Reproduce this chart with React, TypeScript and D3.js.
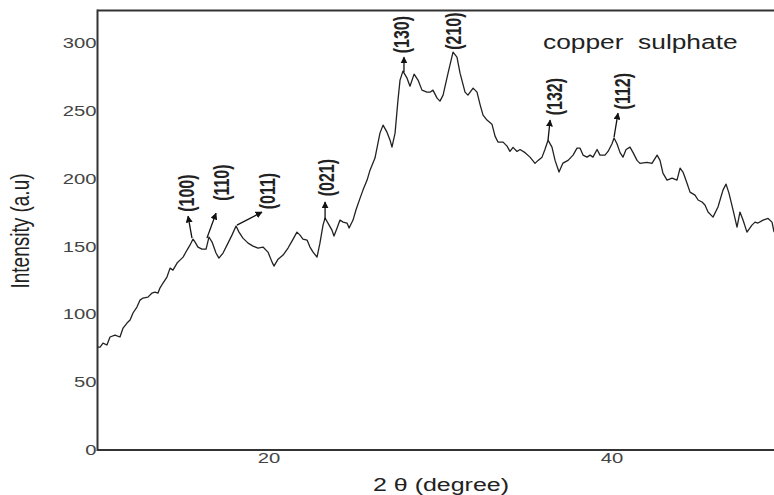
import React from "react";
import * as d3 from "d3";

// 2θ (degree)
const twoTheta = [
  10.0, 10.15, 10.32, 10.55, 10.73, 11.02, 11.31, 11.49, 11.72, 11.9, 12.07, 12.3, 12.48, 12.65, 12.94, 13.18, 13.35, 13.53, 13.64, 13.82,
  14.05, 14.23, 14.4, 14.64, 14.81, 14.99, 15.22, 15.39, 15.57, 15.69, 15.86, 16.09, 16.33, 16.5, 16.68, 16.91, 17.08, 17.32, 17.61, 17.84,
  18.08, 18.25, 18.48, 18.78, 19.07, 19.36, 19.65, 19.94, 20.18, 20.29, 20.53, 20.82, 21.11, 21.34, 21.63, 21.81, 21.98, 22.22, 22.39, 22.57,
  22.8, 22.97, 23.15, 23.27, 23.44, 23.67, 23.79, 23.97, 24.14, 24.32, 24.55, 24.67, 24.9, 25.07, 25.31, 25.48, 25.72, 25.89, 26.18, 26.47,
  26.65, 26.88, 27.06, 27.17, 27.35, 27.52, 27.64, 27.81, 28.05, 28.22, 28.46, 28.69, 28.92, 29.21, 29.39, 29.56, 29.8, 29.97, 30.15, 30.44,
  30.55, 30.73, 30.96, 31.14, 31.43, 31.6, 31.9, 32.13, 32.3, 32.48, 32.71, 33.0, 33.18, 33.35, 33.65, 33.88, 34.05, 34.23, 34.46, 34.64,
  34.93, 35.22, 35.51, 35.69, 35.92, 36.09, 36.27, 36.5, 36.68, 36.91, 37.14, 37.44, 37.73, 37.96, 38.14, 38.31, 38.54, 38.72, 38.89, 39.13,
  39.3, 39.59, 39.77, 40.0, 40.12, 40.29, 40.47, 40.64, 40.82, 41.05, 41.23, 41.46, 41.63, 42.04, 42.33, 42.63, 42.8, 42.97, 43.21, 43.5,
  43.79, 43.97, 44.14, 44.37, 44.55, 44.84, 45.02, 45.25, 45.42, 45.6, 45.89, 46.18, 46.47, 46.65, 46.82, 47.06, 47.29, 47.46, 47.64, 47.87,
  48.16, 48.34, 48.51, 48.81, 49.1, 49.33, 49.45,
];

// Intensity (a.u)
const intensity = [
  75.9, 75.9, 78.8, 77.4, 83.3, 84.7, 83.3, 89.9, 93.6, 95.8, 101.0, 105.4, 110.5, 112.0, 112.7, 115.7, 116.4, 115.7, 119.4, 123.1,
  127.5, 134.1, 132.6, 137.8, 140.0, 142.2, 147.4, 151.0, 155.5, 153.3, 149.6, 148.1, 148.1, 157.0, 153.3, 145.2, 141.5, 145.2, 152.5, 158.4,
  165.1, 160.6, 156.2, 152.5, 150.3, 148.9, 149.6, 145.9, 138.5, 135.6, 140.7, 143.7, 148.9, 154.0, 160.6, 158.4, 155.5, 154.8, 149.6, 145.9,
  142.2, 152.5, 165.8, 171.0, 167.3, 162.1, 157.7, 163.6, 169.5, 168.0, 167.3, 163.6, 169.5, 176.9, 185.7, 191.6, 199.0, 206.3, 215.2, 233.6,
  239.5, 234.3, 228.4, 223.3, 233.6, 257.9, 272.7, 279.3, 274.1, 268.2, 277.1, 272.7, 265.3, 263.8, 263.8, 265.3, 259.4, 257.2, 261.6, 277.8,
  283.7, 293.3, 289.6, 277.8, 263.8, 261.6, 266.8, 263.8, 255.0, 246.9, 243.2, 240.2, 231.4, 227.0, 227.0, 224.0, 220.1, 223.1, 220.1, 221.5,
  219.2, 215.9, 211.3, 213.5, 215.9, 221.5, 228.4, 223.3, 213.5, 204.9, 211.5, 213.5, 217.4, 222.5, 222.5, 217.4, 215.9, 217.4, 215.9, 221.5,
  217.4, 217.4, 220.1, 225.8, 230.0, 225.8, 219.2, 215.9, 221.5, 223.3, 219.2, 213.5, 211.3, 212.1, 211.3, 217.4, 213.5, 204.1, 199.0, 200.5,
  199.0, 207.8, 204.9, 196.8, 190.1, 187.9, 184.3, 182.8, 180.6, 175.4, 171.7, 179.1, 191.6, 196.0, 189.4, 176.9, 164.3, 175.4, 169.5, 160.6,
  165.8, 168.0, 167.3, 169.5, 170.7, 168.0, 160.6,
];

const xTicks = [20, 40];
const yTicks = [0, 50, 100, 150, 200, 250, 300];

// Peak annotations (Miller indices): label centre, arrow base (on the peak) and arrow tip
const peakLabels = ["(100)", "(110)", "(011)", "(021)", "(130)", "(210)", "(132)", "(112)"];
const labelX = [15.22, 17.26, 19.94, 23.38, 27.76, 30.79, 36.68, 40.64];
const labelY = [189.4, 197.1, 190.9, 200.8, 306.2, 308.8, 260.5, 264.5];
const arrowBaseX = [15.51, 16.38, 18.13, 23.27, 27.87, null, 36.27, 40.12];
const arrowBaseY = [156.2, 156.2, 165.8, 169.5, 278.6, null, 228.4, 230.7];
const arrowTipX = [15.28, 16.91, 19.59, 23.27, 27.87, null, 36.39, 40.35];
const arrowTipY = [172.4, 174.6, 175.4, 182.8, 289.6, null, 243.2, 248.3];

const sampleName = "copper  sulphate";

const W = 774;
const H = 495;
const SX = 1.35; // horizontal stretch of the glyphs
const FONT = "'Liberation Sans', Arial, sans-serif";

export default function App() {
  const x = d3.scaleLinear().domain([10, 50]).range([97.5, 783.5]);
  const y = d3.scaleLinear().domain([0, 324]).range([450, 10.5]);

  const pts: [number, number][] = twoTheta.map((t, i) => [t, intensity[i]]);
  const line = d3
    .line<[number, number]>()
    .x((d) => x(d[0]))
    .y((d) => y(d[1]));

  const [y0, y1] = y.range();
  const [x0] = x.range();

  return (
    <svg
      width={W}
      height={H}
      style={{ position: "absolute", left: 0, top: 0, background: "#fff" }}
      fontFamily={FONT}
    >
      <defs>
        <marker
          id="arr"
          viewBox="0 0 10 10"
          refX="9"
          refY="5"
          markerWidth="7"
          markerHeight="7"
          markerUnits="userSpaceOnUse"
          orient="auto"
        >
          <path d="M0,0 L10,5 L0,10 z" fill="#111" />
        </marker>
      </defs>

      {/* frame */}
      <line x1={x0} x2={W + 10} y1={y1} y2={y1} stroke="#333" strokeWidth={2} />
      <line x1={x0} x2={W + 10} y1={y0} y2={y0} stroke="#333" strokeWidth={2} />
      <line x1={x0} x2={x0} y1={y1 - 1} y2={y0 + 1} stroke="#333" strokeWidth={2} />

      {/* y ticks */}
      {yTicks.map((t) => (
        <text
          key={"y" + t}
          transform={`translate(${x0 - 1},${y(t)}) scale(${SX},1)`}
          textAnchor="end"
          dominantBaseline="central"
          fontSize={15}
          fill="#444"
        >
          {t}
        </text>
      ))}

      {/* x ticks */}
      {xTicks.map((t) => (
        <text
          key={"x" + t}
          transform={`translate(${x(t)},${y0 + 13}) scale(${SX},1)`}
          textAnchor="middle"
          fontSize={15}
          fill="#444"
        >
          {t}
        </text>
      ))}

      {/* axis titles */}
      <text
        transform={`translate(29,231) scale(${SX},1) rotate(-90)`}
        textAnchor="middle"
        fontSize={19}
        fill="#222"
      >
        Intensity (a.u)
      </text>
      <text
        transform={`translate(441,491) scale(${SX},1)`}
        textAnchor="middle"
        fontSize={18.5}
        fill="#222"
      >
        2 θ (degree)
      </text>

      {/* data */}
      <path d={line(pts) || ""} fill="none" stroke="#222" strokeWidth={1.3} strokeLinejoin="round" />

      {/* annotations */}
      {peakLabels.map((lab, i) => (
        <g key={lab}>
          {arrowBaseX[i] !== null && (
            <line
              x1={x(arrowBaseX[i] as number)}
              y1={y(arrowBaseY[i] as number)}
              x2={x(arrowTipX[i] as number)}
              y2={y(arrowTipY[i] as number)}
              stroke="#111"
              strokeWidth={1.3}
              markerEnd="url(#arr)"
            />
          )}
          <text
            transform={`translate(${x(labelX[i])},${y(labelY[i])}) scale(${SX},1) rotate(-90)`}
            textAnchor="middle"
            dominantBaseline="central"
            fontSize={16}
            fontWeight="bold"
            fill="#222"
          >
            {lab}
          </text>
        </g>
      ))}

      <text
        transform={`translate(543,49) scale(${SX},1)`}
        fontSize={19.5}
        fill="#222"
        style={{ whiteSpace: "pre" }}
      >
        {sampleName}
      </text>
    </svg>
  );
}
